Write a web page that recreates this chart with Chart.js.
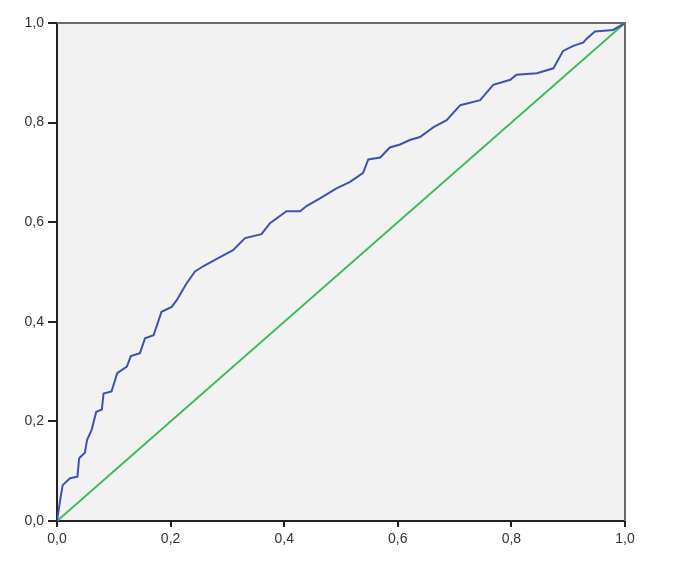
<!DOCTYPE html>
<html>
<head>
<meta charset="utf-8">
<script src="https://cdn.jsdelivr.net/npm/chart.js@4"></script>
<style>
  html, body { margin: 0; padding: 0; background: #ffffff; }
  #wrap { width: 676px; height: 575px; }
</style>
</head>
<body>
<div id="wrap"><canvas id="roc-chart" width="676" height="575"></canvas></div>
<script>
// ROC curve points (1 - specificity, sensitivity)
const rocFpr = [0, 0.004, 0.0065, 0.010, 0.023, 0.036, 0.039, 0.049, 0.053, 0.061, 0.069, 0.079, 0.082, 0.096,
  0.106, 0.123, 0.130, 0.146, 0.155, 0.170, 0.184, 0.202, 0.211, 0.228, 0.243, 0.258, 0.287, 0.310, 0.331,
  0.360, 0.375, 0.404, 0.428, 0.440, 0.463, 0.492, 0.516, 0.539, 0.548, 0.569, 0.586, 0.604, 0.621, 0.639,
  0.663, 0.686, 0.710, 0.745, 0.768, 0.798, 0.809, 0.845, 0.874, 0.891, 0.909, 0.927, 0.932, 0.947, 0.979, 1.0];
const rocTpr = [0, 0.030, 0.049, 0.072, 0.086, 0.089, 0.126, 0.137, 0.163, 0.183, 0.219, 0.224, 0.256, 0.260,
  0.297, 0.310, 0.331, 0.337, 0.367, 0.373, 0.420, 0.430, 0.444, 0.477, 0.501, 0.512, 0.530, 0.544, 0.568,
  0.576, 0.598, 0.622, 0.622, 0.633, 0.648, 0.668, 0.681, 0.699, 0.726, 0.730, 0.750, 0.756, 0.765, 0.771,
  0.791, 0.805, 0.835, 0.845, 0.876, 0.886, 0.896, 0.899, 0.909, 0.944, 0.954, 0.961, 0.968, 0.983, 0.986, 1.0];

// reference line
const refX = [0, 1];
const refY = [0, 1];

const tickValues = [0, 0.2, 0.4, 0.6, 0.8, 1.0];

function toPoints(xs, ys) {
  return xs.map((x, i) => ({ x: x, y: ys[i] }));
}

function commaLabel(v) {
  return v.toFixed(1).replace('.', ',');
}

// gray plot background + top/right frame
const plotFrame = {
  id: 'plotFrame',
  beforeDraw(chart) {
    const a = chart.chartArea;
    const ctx = chart.ctx;
    ctx.save();
    ctx.fillStyle = '#f2f2f2';
    ctx.fillRect(a.left, a.top, a.right - a.left, a.bottom - a.top);
    ctx.restore();
  },
  afterDraw(chart) {
    const a = chart.chartArea;
    const ctx = chart.ctx;
    ctx.save();
    ctx.strokeStyle = '#6a6a6a';
    ctx.lineWidth = 2;
    ctx.beginPath();
    ctx.moveTo(a.left, a.top);
    ctx.lineTo(a.right, a.top);
    ctx.lineTo(a.right, a.bottom);
    ctx.stroke();
    ctx.restore();
  }
};

const axisFont = { family: 'Liberation Sans, Arial, sans-serif', size: 14 };

const ctx = document.getElementById('roc-chart').getContext('2d');
new Chart(ctx, {
  type: 'scatter',
  data: {
    datasets: [
      {
        label: 'ROC',
        data: toPoints(rocFpr, rocTpr),
        showLine: true,
        borderColor: '#3d52b3',
        borderWidth: 2,
        pointRadius: 0,
        tension: 0
      },
      {
        label: 'Reference',
        data: toPoints(refX, refY),
        showLine: true,
        borderColor: '#3dbb5a',
        borderWidth: 2,
        pointRadius: 0
      }
    ]
  },
  options: {
    responsive: false,
    animation: false,
    layout: { padding: { top: 23, right: 51, left: 0, bottom: 0 } },
    plugins: {
      legend: { display: false },
      tooltip: { enabled: false }
    },
    scales: {
      x: {
        type: 'linear',
        min: 0,
        max: 1,
        afterBuildTicks: (scale) => { scale.ticks = tickValues.map(v => ({ value: v })); },
        afterFit: (scale) => { scale.height = 54; },
        ticks: {
          callback: commaLabel,
          color: '#333333',
          font: axisFont,
          padding: 4,
          maxRotation: 0
        },
        grid: {
          drawOnChartArea: false,
          drawTicks: true,
          tickLength: 6,
          color: '#222222',
          lineWidth: 2
        },
        border: { color: '#222222', width: 2 }
      },
      y: {
        type: 'linear',
        min: 0,
        max: 1,
        afterBuildTicks: (scale) => { scale.ticks = tickValues.map(v => ({ value: v })); },
        afterFit: (scale) => { scale.width = 57; },
        ticks: {
          callback: commaLabel,
          color: '#333333',
          font: axisFont,
          padding: 4
        },
        grid: {
          drawOnChartArea: false,
          drawTicks: true,
          tickLength: 9,
          color: '#222222',
          lineWidth: 2
        },
        border: { color: '#222222', width: 2 }
      }
    }
  },
  plugins: [plotFrame]
});
</script>
</body>
</html>
